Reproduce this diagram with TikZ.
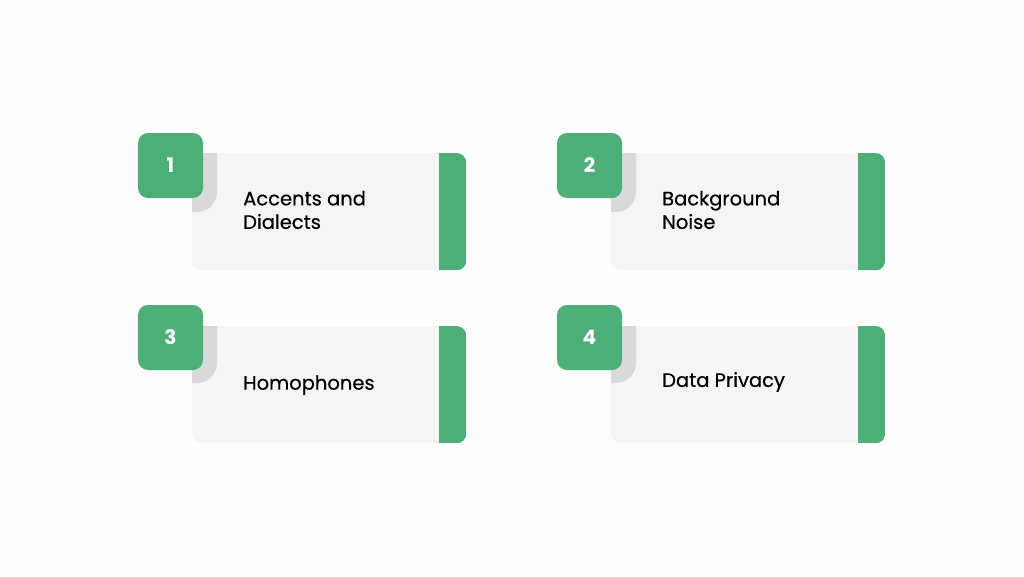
\documentclass[tikz,border=0pt]{standalone}
\usepackage{fontspec}
\setmainfont{Poppins}
\newfontfamily\cardfont{Poppins}[FakeBold=0.4]
\definecolor{pagebg}{HTML}{FDFDFD}
\definecolor{cardbg}{HTML}{F5F5F5}
\definecolor{cardgreen}{HTML}{4DAF77}
\definecolor{cardshade}{HTML}{D9D9D9}
\begin{document}
\begin{tikzpicture}[x=1pt,y=-1pt,
  card/.style={fill=cardbg,rounded corners=10pt,minimum width=274pt,minimum height=117pt,inner sep=0pt,anchor=north west},
  numbox/.style={fill=cardgreen,rounded corners=10pt,minimum size=65pt,inner sep=0pt,text=white,font=\fontsize{20}{24}\selectfont\bfseries},
  cardtext/.style={anchor=west,align=left,inner sep=0pt,text=black,font=\cardfont\fontsize{19.5}{23.5}\selectfont}]
  \fill[pagebg] (0,0) rectangle (1024,576);
  \useasboundingbox (0,0) rectangle (1024,576);
  \begin{scope}[shift={(192,153)}]
  \node[card] (card1) at (0,0) {};
  \begin{scope}
  \clip[rounded corners=10pt] (card1.north west) rectangle (card1.south east);
  \fill[cardgreen] (247,0) rectangle (card1.south east);
  \fill[cardshade,rounded corners=20pt] (-40,-40) rectangle (25,59);
  \end{scope}
  \node[numbox] (num1) at (-21.5,12.5) {1};
  \node[cardtext] (text1) at (51,57) {Accents and\\Dialects};
  \end{scope}
  \begin{scope}[shift={(611,153)}]
  \node[card] (card2) at (0,0) {};
  \begin{scope}
  \clip[rounded corners=10pt] (card2.north west) rectangle (card2.south east);
  \fill[cardgreen] (247,0) rectangle (card2.south east);
  \fill[cardshade,rounded corners=20pt] (-40,-40) rectangle (25,59);
  \end{scope}
  \node[numbox] (num2) at (-21.5,12.5) {2};
  \node[cardtext] (text2) at (51,57) {Background\\Noise};
  \end{scope}
  \begin{scope}[shift={(192,326)}]
  \node[card] (card3) at (0,0) {};
  \begin{scope}
  \clip[rounded corners=10pt] (card3.north west) rectangle (card3.south east);
  \fill[cardgreen] (247,0) rectangle (card3.south east);
  \fill[cardshade,rounded corners=20pt] (-40,-40) rectangle (25,57);
  \end{scope}
  \node[numbox] (num3) at (-21.5,11.5) {3};
  \node[cardtext] (text3) at (51,59) {Homophones};
  \end{scope}
  \begin{scope}[shift={(611,326)}]
  \node[card] (card4) at (0,0) {};
  \begin{scope}
  \clip[rounded corners=10pt] (card4.north west) rectangle (card4.south east);
  \fill[cardgreen] (247,0) rectangle (card4.south east);
  \fill[cardshade,rounded corners=20pt] (-40,-40) rectangle (25,57);
  \end{scope}
  \node[numbox] (num4) at (-21.5,11.5) {4};
  \node[cardtext] (text4) at (51,56) {Data Privacy};
  \end{scope}
\end{tikzpicture}
\end{document}
